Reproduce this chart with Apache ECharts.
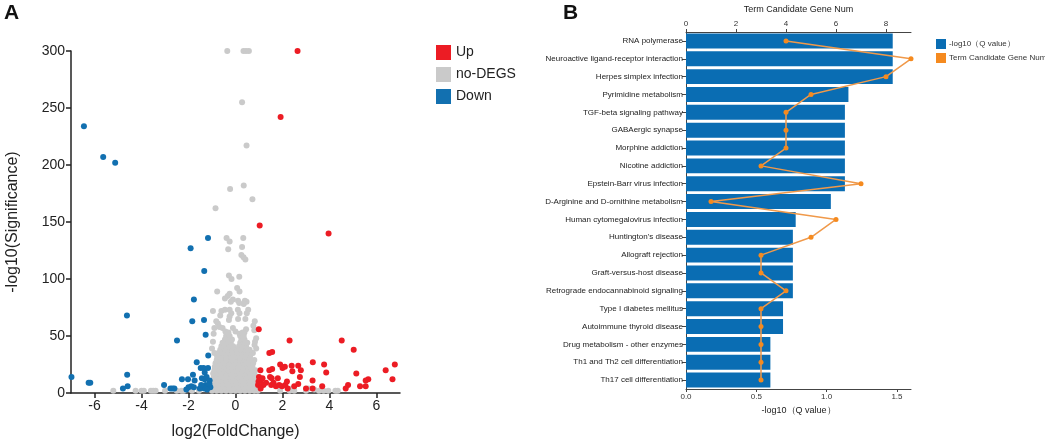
<!DOCTYPE html>
<html>
<head>
<meta charset="utf-8">
<script src="https://cdn.jsdelivr.net/npm/echarts@6/dist/echarts.min.js"></script>
<style>
  html, body { margin: 0; padding: 0; background: #fff; }
  #chart { width: 1045px; height: 445px; }
</style>
</head>
<body>
<div id="chart"></div>
<script>
// panel A: volcano points [log2FC, -log10 p]
var upPoints = [
  [2.64, 300], [1.92, 242], [1.03, 147], [3.96, 140], [0.99, 56], [2.30, 46], [4.52, 46], [5.03, 38],
  [1.44, 35], [1.56, 36], [1.06, 20], [1.90, 25], [2.0, 22], [2.1, 23], [2.39, 24], [2.67, 24],
  [2.42, 19], [2.78, 20], [3.29, 27], [3.77, 25], [3.86, 18], [2.74, 14], [3.28, 11], [5.14, 17],
  [6.39, 20], [6.78, 25], [6.68, 12], [5.65, 12], [5.54, 11], [5.30, 6], [5.54, 6], [4.79, 7],
  [4.69, 4], [2.50, 6], [2.67, 8], [3.69, 6], [3.28, 4], [3.0, 4], [1.44, 20], [1.56, 21],
  [1.47, 14], [1.0, 14], [1.08, 11], [0.98, 10], [1.15, 13], [1.3, 9], [1.19, 7], [0.96, 7],
  [1.07, 4], [1.52, 7], [1.62, 9], [1.72, 6], [1.8, 13], [1.98, 6], [2.12, 7], [2.19, 10],
  [1.86, 7], [2.22, 4], [1.54, 13]
]
var downPoints = [
  [-6.98, 14], [-6.45, 234], [-5.63, 207], [-5.12, 202], [-6.25, 9], [-6.18, 9], [-4.62, 68], [-4.61, 16],
  [-4.59, 6], [-4.79, 4], [-3.04, 7], [-2.77, 4], [-2.68, 4], [-2.6, 4], [-2.49, 46], [-2.28, 12],
  [-2.02, 12], [-1.91, 127], [-1.17, 136], [-1.33, 107], [-1.77, 82], [-1.84, 63], [-1.34, 64], [-1.27, 51],
  [-1.16, 33], [-1.65, 27], [-1.48, 22], [-1.36, 22], [-1.17, 22], [-1.31, 18], [-1.81, 16], [-1.74, 11],
  [-2.0, 5], [-1.88, 6], [-1.77, 5], [-2.09, 3], [-1.43, 13], [-1.31, 12], [-1.23, 14], [-1.1, 11],
  [-1.27, 7], [-1.41, 5], [-1.17, 6], [-1.07, 5], [-1.33, 4], [-1.21, 3], [-1.11, 8], [-1.52, 4], [-1.46, 7]
]
var nsSparse = [
  [-0.35, 300], [0.34, 300], [0.45, 300], [0.57, 300], [0.28, 255], [0.47, 217], [-0.23, 179], [0.35, 182],
  [0.72, 170], [-0.85, 162], [-0.38, 136], [-0.25, 133], [-0.31, 126], [0.33, 136], [0.28, 128], [0.25, 121],
  [0.34, 119], [0.42, 117], [-0.28, 103], [-0.17, 100], [0.16, 102], [-0.78, 89], [0.07, 92], [0.17, 89],
  [-0.25, 87], [-0.33, 85], [-0.45, 83], [-0.11, 82], [-0.2, 80], [0.40, 81], [0.47, 80], [0.35, 78],
  [0.11, 81], [0.16, 79], [-0.6, 72], [-0.45, 73], [-0.65, 68], [-0.82, 63], [-0.96, 72], [-0.25, 73],
  [-0.18, 70], [-0.25, 67], [-0.28, 64], [0.54, 73], [0.48, 70], [0.42, 65], [0.82, 63], [0.76, 59],
  [0.1, 73], [0.17, 70], [0.11, 65], [-0.75, 61], [-0.68, 58], [-0.9, 57], [-0.93, 52], [-0.55, 57],
  [-0.43, 54], [-0.35, 51], [-0.11, 57], [0.0, 54], [0.17, 52], [0.31, 50], [0.45, 56], [0.38, 53],
  [0.8, 55], [0.88, 48], [0.81, 42], [0.88, 39], [0.74, 35], [0.83, 45], [-0.96, 45], [-1.0, 39],
  [-0.9, 35], [-0.75, 32]
]
var nsLow = [
  [-5.2, 2], [-4.25, 2], [-4.0, 2], [-3.9, 2], [-3.6, 2], [-3.5, 2], [-3.4, 2], [-3.0, 2], [-2.5, 2],
  [-2.3, 2], [-2.2, 2], [-1.85, 2], [-1.55, 2], [1.9, 2], [2.3, 2], [2.5, 2], [3.0, 2], [3.1, 4],
  [3.35, 3], [3.55, 2], [3.75, 2], [3.95, 2], [4.25, 2], [4.35, 2], [2.4, 4]
]
var nsDense = [
  [-1.0, 2], [-0.8, 2], [-0.6, 2], [-0.4, 2], [-0.2, 2], [0, 2], [0.2, 2], [0.4, 2], [0.6, 2], [0.8, 2], [0.95, 2],
  [-1.0, 5], [-0.85, 5], [-0.65, 5], [-0.45, 5], [-0.25, 5], [-0.05, 5], [0.15, 5], [0.35, 5], [0.55, 5], [0.75, 5], [0.92, 5],
  [-0.95, 8], [-0.75, 8], [-0.55, 8], [-0.35, 8], [-0.15, 8], [0.05, 8], [0.25, 8], [0.45, 8], [0.65, 8], [0.85, 8],
  [-0.98, 11], [-0.8, 11], [-0.6, 11], [-0.4, 11], [-0.2, 11], [0, 11], [0.2, 11], [0.4, 11], [0.6, 11], [0.8, 11], [0.9, 11],
  [-0.92, 14], [-0.72, 14], [-0.52, 14], [-0.32, 14], [-0.12, 14], [0.08, 14], [0.28, 14], [0.48, 14], [0.68, 14], [0.86, 14],
  [-0.95, 17], [-0.78, 17], [-0.58, 17], [-0.38, 17], [-0.18, 17], [0.02, 17], [0.22, 17], [0.42, 17], [0.62, 17], [0.8, 17],
  [-0.9, 20], [-0.7, 20], [-0.5, 20], [-0.3, 20], [-0.1, 20], [0.1, 20], [0.3, 20], [0.5, 20], [0.7, 20], [0.85, 20],
  [-0.88, 23], [-0.68, 23], [-0.48, 23], [-0.28, 23], [-0.08, 23], [0.12, 23], [0.32, 23], [0.52, 23], [0.72, 23],
  [-0.85, 26], [-0.65, 26], [-0.45, 26], [-0.25, 26], [-0.05, 26], [0.15, 26], [0.35, 26], [0.55, 26], [0.75, 26],
  [-0.8, 29], [-0.6, 29], [-0.4, 29], [-0.2, 29], [0, 29], [0.2, 29], [0.4, 29], [0.6, 29], [0.8, 29],
  [-0.78, 32], [-0.58, 32], [-0.38, 32], [-0.18, 32], [0.02, 32], [0.22, 32], [0.42, 32], [0.62, 32],
  [-0.72, 35], [-0.52, 35], [-0.32, 35], [-0.12, 35], [0.08, 35], [0.28, 35], [0.48, 35], [0.68, 35],
  [-0.65, 38], [-0.45, 38], [-0.3, 38], [-0.15, 38], [0.05, 38], [0.25, 38], [0.42, 38], [0.6, 38],
  [-0.6, 41], [-0.4, 41], [-0.25, 41], [-0.1, 41], [0.15, 41], [0.3, 41], [0.45, 41],
  [-0.55, 44], [-0.35, 44], [-0.2, 44], [0.2, 44], [0.35, 44], [0.5, 44],
  [-0.45, 47], [-0.3, 47], [-0.15, 47], [0.25, 47], [0.38, 47],
  [-0.4, 50], [-0.25, 50], [0.2, 50], [0.35, 50],
  [-0.3, 53], [0.3, 53]
]
var fcTicks = [-6, -4, -2, 0, 2, 4, 6]

// panel B: KEGG terms
var terms = [
  'RNA polymerase', 'Neuroactive ligand-receptor interaction', 'Herpes simplex infection',
  'Pyrimidine metabolism', 'TGF-beta signaling pathway', 'GABAergic synapse', 'Morphine addiction',
  'Nicotine addiction', 'Epstein-Barr virus infection', 'D-Arginine and D-ornithine metabolism',
  'Human cytomegalovirus infection', "Huntington's disease", 'Allograft rejection',
  'Graft-versus-host disease', 'Retrograde endocannabinoid signaling', 'Type I diabetes mellitus',
  'Autoimmune thyroid disease', 'Drug metabolism - other enzymes', 'Th1 and Th2 cell differentiation',
  'Th17 cell differentiation'
]
var qValues = [1.47, 1.47, 1.47, 1.155, 1.13, 1.13, 1.13, 1.13, 1.13, 1.03,
  0.78, 0.76, 0.76, 0.76, 0.76, 0.69, 0.69, 0.60, 0.60, 0.60]
var geneNum = [4, 9, 8, 5, 4, 4, 4, 3, 7, 1, 6, 5, 3, 3, 4, 3, 3, 3, 3, 3]

var qName = '-log10（Q value）'
var numName = 'Term Candidate Gene Num'

var font = 'Liberation Sans, Arial, sans-serif'
var chart = echarts.init(document.getElementById('chart'))

var option = {
  animation: false,
  textStyle: { fontFamily: font },
  graphic: [
    { type: 'text', left: 4, top: 3, style: { text: 'A', font: 'bold 21px ' + font, fill: '#111' } },
    { type: 'text', left: 563, top: 3, style: { text: 'B', font: 'bold 21px ' + font, fill: '#111' } }
  ],
  legend: [
    {
      data: ['Up', 'no-DEGS', 'Down'],
      orient: 'vertical',
      left: 431,
      top: 40,
      icon: 'rect',
      itemWidth: 15,
      itemHeight: 15,
      itemGap: 7,
      textStyle: { fontSize: 14, color: '#222', fontFamily: font }
    },
    {
      data: [qName, numName],
      orient: 'vertical',
      left: 931,
      top: 34,
      icon: 'rect',
      itemWidth: 10,
      itemHeight: 10,
      itemGap: 4,
      textStyle: { fontSize: 8, color: '#333', fontFamily: font, padding: [0, 0, 0, -2] }
    }
  ],
  grid: [
    { left: 71, right: 645, top: 51, bottom: 50 },
    { left: 686, right: 134, top: 30, bottom: 56 }
  ],
  xAxis: [
    {
      gridIndex: 0,
      type: 'value',
      min: -7,
      max: 7,
      name: 'log2(FoldChange)',
      nameLocation: 'middle',
      nameGap: 31,
      nameTextStyle: { fontSize: 16, color: '#222' },
      axisLine: { onZero: false, lineStyle: { color: '#222', width: 1.5 } },
      axisTick: { length: 5, customValues: fcTicks, lineStyle: { color: '#222', width: 1.5 } },
      axisLabel: { customValues: fcTicks, fontSize: 14, color: '#222', margin: 6 },
      splitLine: { show: false }
    },
    {
      gridIndex: 1,
      type: 'value',
      min: 0,
      max: 1.6,
      interval: 0.5,
      position: 'bottom',
      name: qName,
      nameLocation: 'middle',
      nameGap: 17,
      nameTextStyle: { fontSize: 9, color: '#222' },
      axisLine: { show: true, lineStyle: { color: '#444' } },
      axisTick: { show: true, length: 3, lineStyle: { color: '#444' } },
      axisLabel: {
        fontSize: 8, color: '#333', margin: 4, showMaxLabel: false,
        formatter: function (v) { return v.toFixed(1) }
      },
      splitLine: { show: false }
    },
    {
      gridIndex: 1,
      type: 'value',
      min: 0,
      max: 9,
      interval: 2,
      position: 'top',
      name: numName,
      nameLocation: 'middle',
      nameGap: 18,
      nameTextStyle: { fontSize: 9, color: '#222' },
      axisLine: { show: true, lineStyle: { color: '#444' } },
      axisTick: { show: true, length: 3, lineStyle: { color: '#444' } },
      axisLabel: { fontSize: 8, color: '#333', margin: 4, showMaxLabel: false },
      splitLine: { show: false }
    }
  ],
  yAxis: [
    {
      gridIndex: 0,
      type: 'value',
      min: 0,
      max: 300,
      interval: 50,
      name: '-log10(Significance)',
      nameLocation: 'middle',
      nameGap: 50,
      nameTextStyle: { fontSize: 16, color: '#222' },
      axisLine: { show: true, onZero: false, lineStyle: { color: '#222', width: 1.5 } },
      axisTick: { show: true, length: 5, lineStyle: { color: '#222', width: 1.5 } },
      axisLabel: { fontSize: 14, color: '#222', margin: 6 },
      splitLine: { show: false }
    },
    {
      gridIndex: 1,
      type: 'category',
      data: terms,
      inverse: true,
      axisLine: { show: true, lineStyle: { color: '#444' } },
      axisTick: { show: true, length: 4, alignWithLabel: true, lineStyle: { color: '#444' } },
      axisLabel: { fontSize: 8, color: '#222', margin: 3 }
    }
  ],
  series: [
    {
      name: 'Up',
      type: 'scatter',
      xAxisIndex: 0,
      yAxisIndex: 0,
      symbolSize: 6,
      z: 3,
      itemStyle: { color: '#ec1c24', opacity: 1 },
      data: upPoints
    },
    {
      name: 'no-DEGS',
      type: 'scatter',
      xAxisIndex: 0,
      yAxisIndex: 0,
      symbolSize: 6,
      z: 2,
      itemStyle: { color: '#cacaca', opacity: 1 },
      data: nsSparse.concat(nsLow, nsDense)
    },
    {
      name: 'Down',
      type: 'scatter',
      xAxisIndex: 0,
      yAxisIndex: 0,
      symbolSize: 6,
      z: 3,
      itemStyle: { color: '#1270b0', opacity: 1 },
      data: downPoints
    },
    {
      name: qName,
      type: 'bar',
      xAxisIndex: 1,
      yAxisIndex: 1,
      barCategoryGap: '16%',
      itemStyle: { color: '#0a6db3' },
      data: qValues
    },
    {
      name: numName,
      type: 'line',
      xAxisIndex: 2,
      yAxisIndex: 1,
      symbol: 'circle',
      symbolSize: 5,
      z: 4,
      lineStyle: { color: '#f0994a', width: 1.5 },
      itemStyle: { color: '#f58a1f' },
      data: geneNum
    }
  ]
}

chart.setOption(option)
</script>
</body>
</html>
